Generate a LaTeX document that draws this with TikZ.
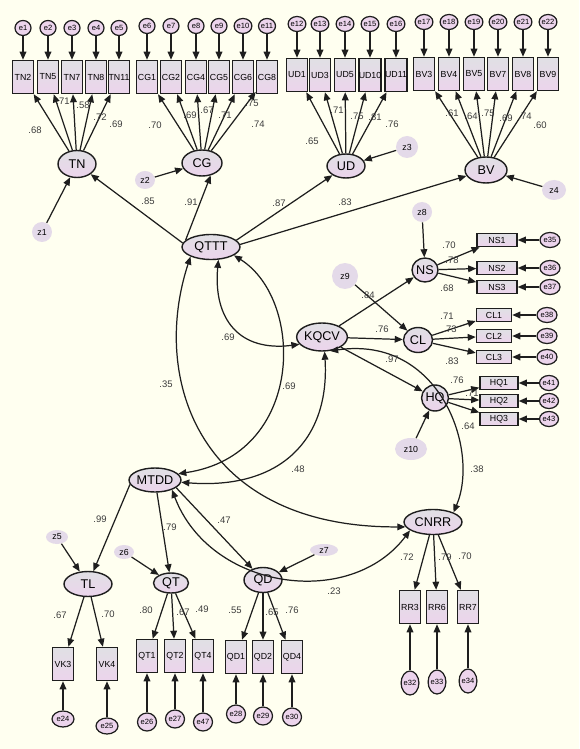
\documentclass[tikz,border=0pt]{standalone}
\usepackage{fontspec}
\setmainfont{Liberation Sans}
\usetikzlibrary{arrows.meta,shapes.geometric}
\definecolor{Paper}{HTML}{FFFFF0}
\definecolor{BoxTop}{HTML}{E0E0E4}
\definecolor{BoxBot}{HTML}{ECD4EC}
\definecolor{Disc}{HTML}{E4DAE9}
\definecolor{Ink}{HTML}{1E1E1E}
\definecolor{Coef}{HTML}{3C3C3C}

\begin{document}
\begin{tikzpicture}[x=0.02cm,y=-0.02cm,
  obs/.style={draw=Ink,line width=0.85pt,top color=BoxTop,bottom color=BoxBot,
    minimum width=0.42cm,minimum height=0.66cm,inner sep=0pt,
    font=\fontsize{5}{6}\selectfont},
  obsw/.style={obs,minimum height=0.26cm},
  lat/.style={draw=Ink,line width=0.8pt,ellipse,top color=BoxTop,
    bottom color=BoxBot,inner sep=0pt,font=\fontsize{7.2}{8}\selectfont},
  err/.style={draw=Ink,line width=0.7pt,ellipse,fill=BoxBot,
    minimum width=0.32cm,minimum height=0.3cm,inner sep=0pt,
    font=\fontsize{4.3}{5}\selectfont},
  dist/.style={ellipse,fill=Disc,inner sep=0pt,
    font=\fontsize{5}{6}\selectfont},
  coef/.style={font=\fontsize{5.4}{6}\selectfont,color=Coef,inner sep=0pt},
  arr/.style={-{Triangle[length=4.6pt,width=3.8pt]},line width=0.7pt,color=Ink},
  cov/.style={{Triangle[length=4.6pt,width=3.8pt]}-{Triangle[length=4.6pt,width=3.8pt]},
    line width=0.7pt,color=Ink}
]
\fill[Paper] (0,0) rectangle (579,749);
\useasboundingbox (0,0) rectangle (579,749);

% Latent variables.
\node[lat,minimum width=0.76cm,minimum height=0.54cm] (TN) at (77,164) {TN};
\node[lat,minimum width=0.80cm,minimum height=0.52cm] (CG) at (202,163) {CG};
\node[lat,minimum width=0.76cm,minimum height=0.48cm] (UD) at (346,166) {UD};
\node[lat,minimum width=0.84cm,minimum height=0.52cm] (BV) at (486,170) {BV};
\node[lat,minimum width=1.16cm,minimum height=0.50cm] (QTTT) at (211,247) {QTTT};
\node[lat,minimum width=0.84cm,minimum height=0.56cm] (KQCV) at (322,337) {KQCV};
\node[lat,minimum width=0.52cm,minimum height=0.48cm] (NS) at (425,270) {NS};
\node[lat,minimum width=0.58cm,minimum height=0.50cm] (CL) at (418,340) {CL};
\node[lat,minimum width=0.48cm,minimum height=0.52cm] (HQ) at (435,398) {HQ};
\node[lat,minimum width=1.04cm,minimum height=0.48cm] (MTDD) at (155,480) {MTDD};
\node[lat,minimum width=1.16cm,minimum height=0.50cm] (CNRR) at (433,522) {CNRR};
\node[lat,minimum width=0.96cm,minimum height=0.50cm] (TL) at (88,584) {TL};
\node[lat,minimum width=0.70cm,minimum height=0.40cm] (QT) at (171,583) {QT};
\node[lat,minimum width=0.76cm,minimum height=0.50cm] (QD) at (263,580) {QD};

% Disturbances.
\node[dist,minimum width=0.40cm,minimum height=0.40cm] (z1) at (42,232) {z1};
\node[dist,minimum width=0.40cm,minimum height=0.36cm] (z2) at (145,180) {z2};
\node[dist,minimum width=0.44cm,minimum height=0.44cm] (z3) at (407,147) {z3};
\node[dist,minimum width=0.48cm,minimum height=0.40cm] (z4) at (554,190) {z4};
\node[dist,minimum width=0.44cm,minimum height=0.28cm] (z5) at (57,537) {z5};
\node[dist,minimum width=0.40cm,minimum height=0.28cm] (z6) at (124,552) {z6};
\node[dist,minimum width=0.56cm,minimum height=0.24cm] (z7) at (324,550) {z7};
\node[dist,minimum width=0.40cm,minimum height=0.40cm] (z8) at (422,212) {z8};
\node[dist,minimum width=0.52cm,minimum height=0.52cm] (z9) at (345,276) {z9};
\node[dist,minimum width=0.64cm,minimum height=0.44cm] (z10) at (411,449) {z10};
\foreach \z/\f in {z1/TN,z2/CG,z3/UD,z4/BV,z5/TL,z6/QT,z7/QD,z8/NS,z9/CL,z10/HQ}
  \draw[arr] (\z) -- (\f);

% Indicators, top row.
\foreach \n/\x/\e in {TN2/23/1,TN5/48/2,TN7/72/3,TN8/96/4,TN11/119/5}{
  \node[obs] (\n) at (\x,77) {\n};
  \node[err] (e\e) at (\x,28) {e\e};
  \draw[arr] (e\e) -- (\n);
  \draw[arr] (TN) -- (\n);
}
\foreach \n/\x/\e in {CG1/147/6,CG2/171/7,CG4/196/8,CG5/219/9,CG6/243/10,CG8/267/11}{
  \node[obs] (\n) at (\x,77) {\n};
  \node[err] (e\e) at (\x,26) {e\e};
  \draw[arr] (e\e) -- (\n);
  \draw[arr] (CG) -- (\n);
}
\foreach \n/\x/\e in {UD1/297/12,UD3/320/13,UD5/345/14,UD10/370/15,UD11/396/16}{
  \node[obs] (\n) at (\x,75) {\n};
  \node[err] (e\e) at (\x,24) {e\e};
  \draw[arr] (e\e) -- (\n);
  \draw[arr] (UD) -- (\n);
}
\foreach \n/\x/\e in {BV3/424/17,BV4/449/18,BV5/474/19,BV7/498/20,BV8/523/21,BV9/548/22}{
  \node[obs] (\n) at (\x,74) {\n};
  \node[err] (e\e) at (\x,22) {e\e};
  \draw[arr] (e\e) -- (\n);
  \draw[arr] (BV) -- (\n);
}

% Indicators, right column.
\foreach \n/\y/\e in {NS1/240/35,NS2/268/36,NS3/287/37}{
  \node[obsw,minimum width=0.80cm] (\n) at (497,\y) {\n};
  \node[err,minimum width=0.40cm] (e\e) at (550,\y) {e\e};
  \draw[arr] (e\e) -- (\n);
  \draw[arr] (NS) -- (\n);
}
\foreach \n/\y/\e in {CL1/315/38,CL2/336/39,CL3/357/40}{
  \node[obsw,minimum width=0.70cm] (\n) at (494,\y) {\n};
  \node[err,minimum width=0.40cm] (e\e) at (547,\y) {e\e};
  \draw[arr] (e\e) -- (\n);
  \draw[arr] (CL) -- (\n);
}
\foreach \n/\y/\e in {HQ1/383/41,HQ2/401/42,HQ3/419/43}{
  \node[obsw,minimum width=0.76cm] (\n) at (499,\y) {\n};
  \node[err,minimum width=0.38cm] (e\e) at (549,\y) {e\e};
  \draw[arr] (e\e) -- (\n);
  \draw[arr] (HQ) -- (\n);
}

% Indicators, bottom row.
\foreach \n/\x/\e/\ey in {VK3/63/24/719,VK4/107/25/726}{
  \node[obs] (\n) at (\x,664) {\n};
  \node[err,minimum width=0.44cm,minimum height=0.32cm] (e\e) at (\x,\ey) {e\e};
  \draw[arr] (e\e) -- (\n);
  \draw[arr] (TL) -- (\n);
}
\foreach \n/\x/\e/\ey in {QT1/147/26/722,QT2/175/27/719,QT4/203/47/722}{
  \node[obs] (\n) at (\x,656) {\n};
  \node[err,minimum width=0.38cm,minimum height=0.36cm] (e\e) at (\x,\ey) {e\e};
  \draw[arr] (e\e) -- (\n);
  \draw[arr] (QT) -- (\n);
}
\foreach \n/\x/\e/\ey in {QD1/236/28/714,QD2/263/29/716,QD4/292/30/717}{
  \node[obs] (\n) at (\x,657) {\n};
  \node[err,minimum width=0.38cm,minimum height=0.36cm] (e\e) at (\x,\ey) {e\e};
  \draw[arr] (e\e) -- (\n);
  \draw[arr] (QD) -- (\n);
}
\foreach \n/\x/\e/\ey in {RR3/410/32/683,RR6/437/33/682,RR7/468/34/681}{
  \node[obs] (\n) at (\x,607) {\n};
  \node[err,minimum width=0.32cm,minimum height=0.48cm] (e\e) at (\x,\ey) {e\e};
  \draw[arr] (e\e) -- (\n);
  \draw[arr] (CNRR) -- (\n);
}

% Structural paths.
\draw[arr] (QTTT.172) -- (TN);
\draw[arr] (QTTT.165) -- (CG.-55);
\draw[arr] (QTTT.15) -- (UD);
\draw[arr] (QTTT.5) -- (BV);
\draw[arr] (KQCV) -- (NS);
\draw[arr] (KQCV) -- (CL);
\draw[arr] (KQCV) -- (HQ);
\draw[arr] (MTDD.190) -- (TL);
\draw[arr] (MTDD) -- (QT);
\draw[arr] (MTDD.-20) -- (QD);

% Correlations.
\draw[cov] (QTTT.-60) .. controls (213,320) and (240,352) .. (KQCV.198);
\draw[cov] (QTTT.-20) .. controls (305,300) and (305,455) .. (MTDD.15);
\draw[cov] (QTTT.-155) .. controls (150,380) and (200,528) .. (CNRR.190);
\draw[cov] (KQCV.-80) .. controls (330,440) and (280,490) .. (MTDD.-5);
\draw[cov] (KQCV.-60) .. controls (440,335) and (480,450) .. (CNRR.25);
\draw[cov] (MTDD.-30) .. controls (210,590) and (350,610) .. (CNRR.-160);

% Estimates.
\foreach \v/\x/\y [count=\k] in {
  .68/35/130,.71/63/101,.58/83/105,.72/100/117,.69/116/124,
  .70/155/125,.69/190/115,.67/207/110,.71/225/115,.75/252/103,.74/258/124,
  .65/312/141,.71/337/110,.75/357/116,.81/375/117,.76/392/124,
  .61/452/113,.64/471/116,.75/488/113,.69/506/118,.74/525/116,.60/540/125,
  .85/148/201,.91/191/202,.87/279/203,.83/345/202,
  .69/228/337,.35/166/384,.69/289/386,.48/298/469,.38/477/469,.23/334/591,
  .84/368/295,.76/382/329,.97/392/359,
  .70/449/245,.78/452/260,.68/447/288,
  .71/447/316,.73/450/329,.83/452/361,
  .76/457/380,.71/472/393,.64/468/426,
  .99/100/519,.79/170/527,.47/224/520,
  .67/60/615,.70/108/614,
  .80/146/610,.67/183/612,.49/202/609,
  .55/235/610,.65/272/612,.76/292/610,
  .72/407/557,.79/445/557,.70/465/556}
  \node[coef] (c\k) at (\x,\y) {\v};
\end{tikzpicture}
\end{document}
